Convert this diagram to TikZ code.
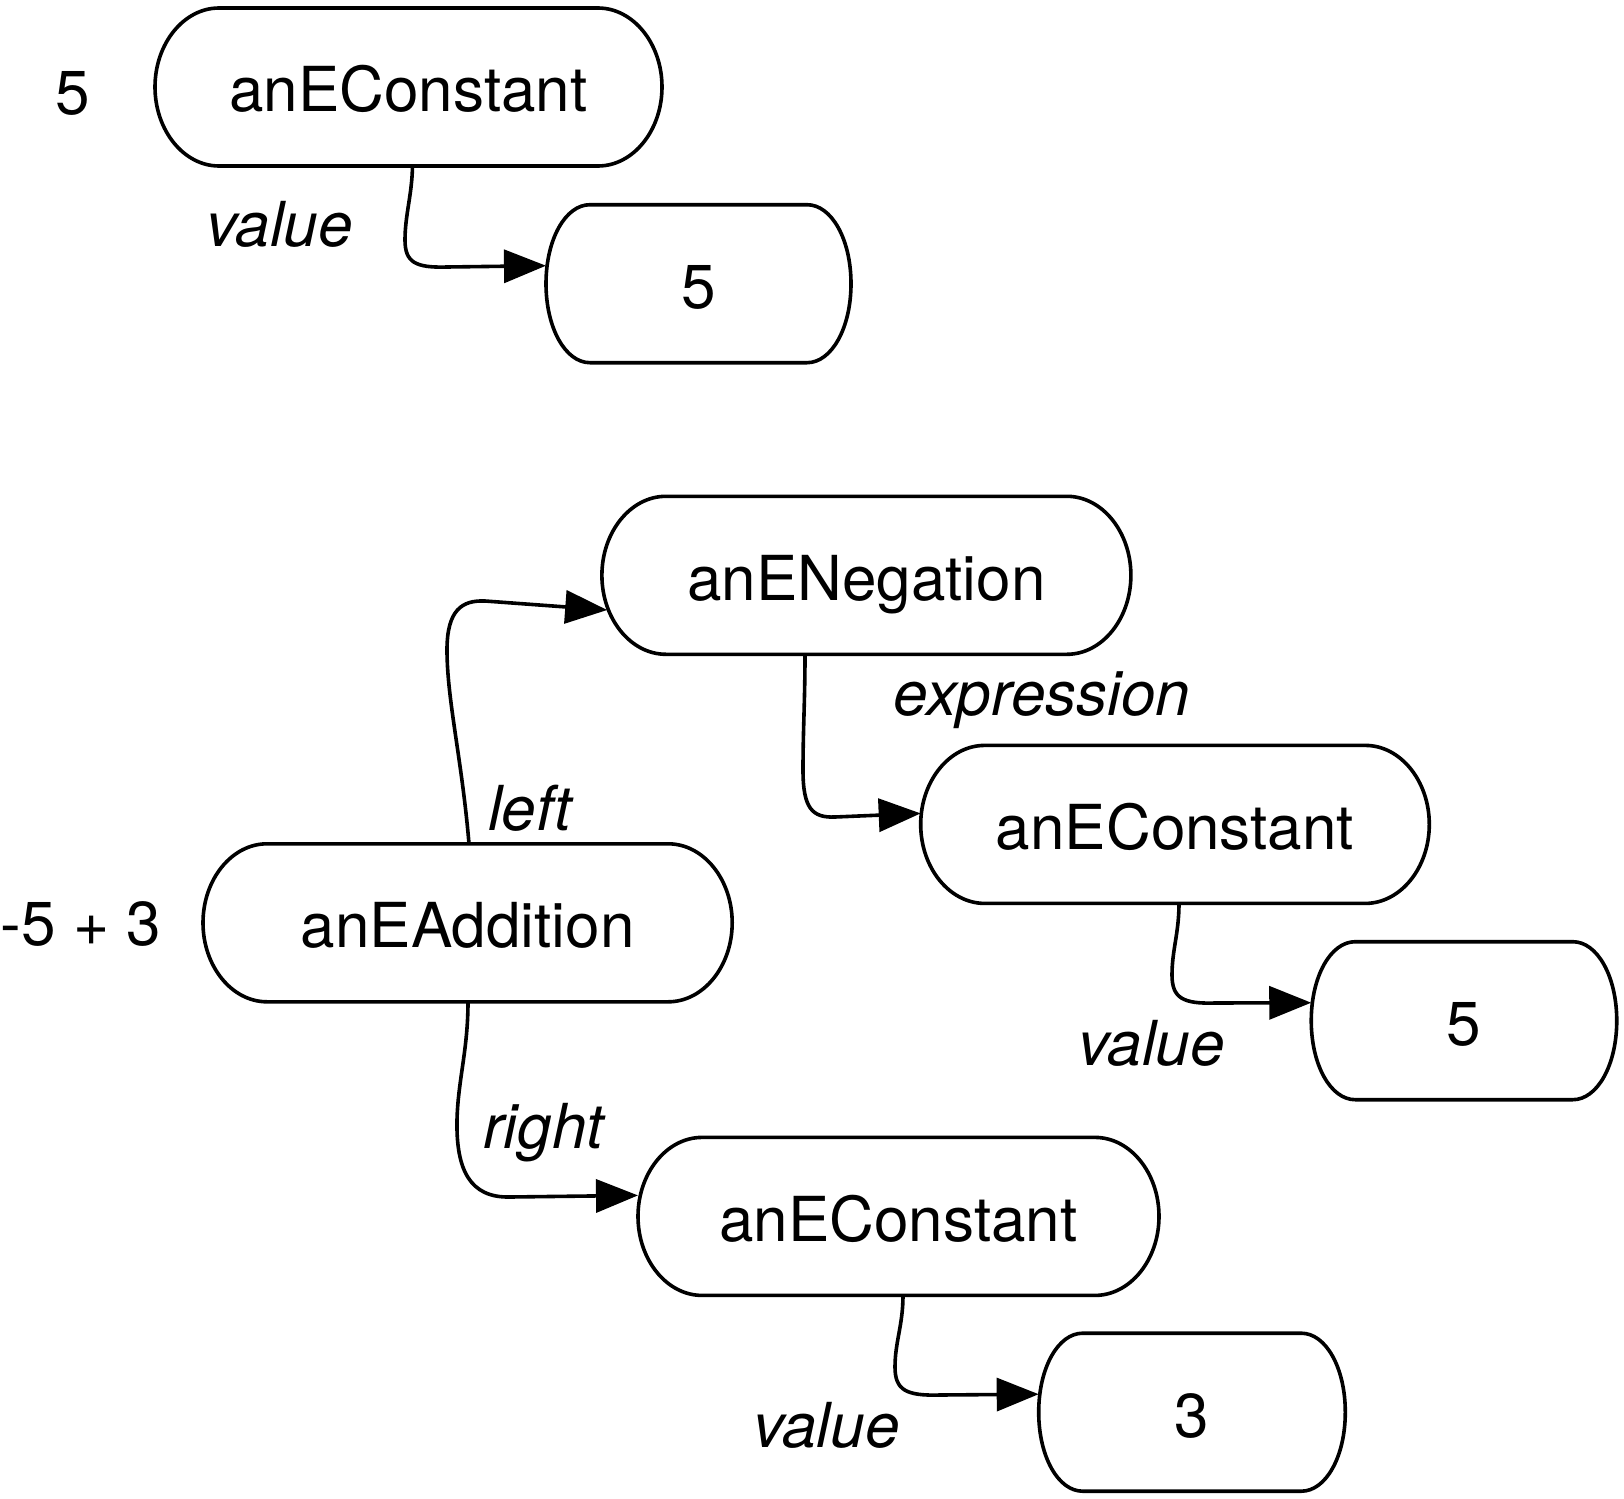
\documentclass[tikz,border=0pt]{standalone}
\usepackage{fontspec}
\setmainfont{TeX Gyre Heros}
\usetikzlibrary{arrows.meta,calc}
\tikzset{
  txt/.style={font=\fontsize{31pt}{37pt}\selectfont, inner sep=0pt, outer sep=0pt},
  obj/.style={txt, draw=none, minimum height=79pt, text height=24.8pt, text depth=0pt},
  lbl/.style={txt, anchor=base, font=\fontsize{31pt}{37pt}\selectfont\itshape},
  plain/.style={txt, anchor=base},
  shapeline/.style={line width=1.8pt, black},
  arr/.style={line width=1.8pt, black, -{Triangle[length=21pt,width=16.5pt]}}
}
\newcommand\outlineof[3]{%
  \draw[shapeline] let \p1=(#1.north west), \p2=(#1.south east),
     \n1={(\y1+\y2)/2}, \n2={(\y1-\y2)/2} in
   ({\x1+#2},\y1) -- ({\x2-#2},\y1)
   .. controls ({\x2-#2+#3*#2},\y1) and (\x2,{\n1+#3*\n2}) .. (\x2,\n1)
   .. controls (\x2,{\n1-#3*\n2}) and ({\x2-#2+#3*#2},\y2) .. ({\x2-#2},\y2)
   -- ({\x1+#2},\y2)
   .. controls ({\x1+#2-#3*#2},\y2) and (\x1,{\n1-#3*\n2}) .. (\x1,\n1)
   .. controls (\x1,{\n1+#3*\n2}) and ({\x1+#2-#3*#2},\y1) .. cycle;}
\begin{document}
\begin{tikzpicture}[x=1pt,y=1pt]
\fill[white] (0,0) rectangle (812,-749.5);
\useasboundingbox (0,0) rectangle (812,-749.5);

% nodes
\node[obj, minimum width=253.5pt] (A) at (204.25,-43.5) {anEConstant};
\node[obj, minimum width=152.5pt] (V1) at (349.25,-141.85) {5};
\node[obj, minimum width=264.5pt] (B) at (433.2,-287.65) {anENegation};
\node[obj, minimum width=264.6pt] (C) at (233.8,-461.4) {anEAddition};
\node[obj, minimum width=254.3pt] (D) at (587.5,-412.2) {anEConstant};
\node[obj, minimum width=152.75pt] (V2) at (732,-510.35) {5};
\node[obj, minimum width=260.5pt] (E) at (449.25,-608.2) {anEConstant};
\node[obj, minimum width=153.3pt] (V3) at (596,-706.1) {3};

\outlineof{A}{32pt}{0.55}
\outlineof{B}{32pt}{0.55}
\outlineof{C}{32pt}{0.55}
\outlineof{D}{32pt}{0.55}
\outlineof{E}{32pt}{0.55}
\outlineof{V1}{22pt}{0.56}
\outlineof{V2}{22pt}{0.56}
\outlineof{V3}{22pt}{0.56}

% side labels
\node[plain] (l5) at (36.25,-57) {5};
\node[plain] (lsum) at (40.4,-472.8) {-5 + 3};

% connector labels
\node[lbl] (lv1) at (139.8,-123.25) {value};
\node[lbl] (lleft) at (265,-415) {left};
\node[lbl] (lexpr) at (521,-357.5) {expression};
\node[lbl] (lright) at (271.75,-574) {right};
\node[lbl] (lv2) at (575.85,-532.5) {value};
\node[lbl] (lv3) at (413.25,-723.5) {value};

% connectors
\draw[arr] ([xshift=2pt]A.south) .. controls (206,-97.5) and (202.5,-107.5) .. (202.5,-120)
  .. controls (202.5,-131) and (207.5,-134) .. (223.5,-133.5) -- ([yshift=9pt]V1.west);
\draw[arr] ([xshift=2pt]D.south) .. controls (589.5,-466.5) and (586,-475) .. (586,-487.5)
  .. controls (586,-499) and (591.5,-502) .. (607.5,-501.5) -- ([yshift=9pt]V2.west);
\draw[arr] ([xshift=2.25pt]E.south) .. controls (451.5,-662.5) and (447.5,-671) .. (447.5,-683.5)
  .. controls (447.5,-695) and (453,-698) .. (470,-697.5) -- ([yshift=9pt]V3.west);
\draw[arr] ([xshift=-30.7pt]B.south) .. controls (402.5,-350) and (401.5,-365) .. (401.5,-385)
  .. controls (401.5,-404) and (406,-409) .. (417.5,-408.5) -- ([yshift=5.5pt]D.west);
\draw[arr] ([xshift=0.2pt]C.south) .. controls (234,-525) and (229,-540) .. (228.5,-560)
  .. controls (228,-585) and (235,-599) .. (255,-598.5) -- ([yshift=10.5pt]E.west);
\draw[arr] ([xshift=0.7pt]C.north) .. controls (231,-380) and (223.5,-350) .. (223.5,-325)
  .. controls (223.5,-305) and (231,-300) .. (242.5,-300.5) -- ([shift={(2.65pt,-17.35pt)}]B.west);
\end{tikzpicture}
\end{document}
